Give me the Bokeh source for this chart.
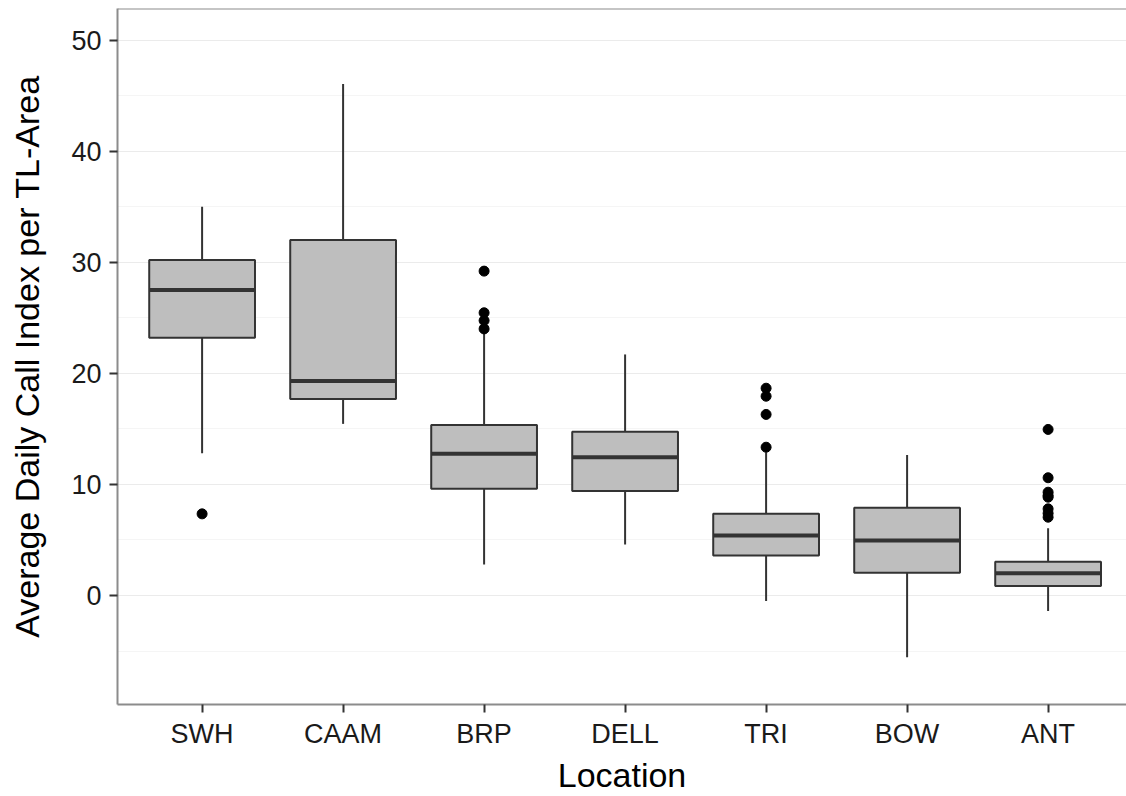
from bokeh.plotting import figure
from bokeh.models import Range1d, FixedTicker, Span, ColumnDataSource
from bokeh.embed import file_html
from bokeh.resources import INLINE

locations = ["SWH", "CAAM", "BRP", "DELL", "TRI", "BOW", "ANT"]
q1 = [23.2, 17.7, 9.6, 9.4, 3.6, 2.05, 0.85]
median = [27.5, 19.3, 12.75, 12.45, 5.4, 4.95, 2.0]
q3 = [30.2, 32.0, 15.35, 14.75, 7.35, 7.9, 3.05]
whisker_low = [12.8, 15.45, 2.8, 4.6, -0.5, -5.55, -1.4]
whisker_high = [35.0, 46.05, 23.7, 21.7, 12.9, 12.65, 6.05]

outlier_loc = ["SWH", "BRP", "BRP", "BRP", "BRP", "TRI", "TRI", "TRI", "TRI",
               "ANT", "ANT", "ANT", "ANT", "ANT", "ANT", "ANT", "ANT"]
outlier_val = [7.35, 29.2, 25.45, 24.75, 24.0, 18.66, 17.94, 16.3, 13.35,
               14.95, 10.6, 9.3, 9.0, 8.85, 7.8, 7.4, 7.05]

y_major = [0, 10, 20, 30, 40, 50]
y_minor = [-5, 5, 15, 25, 35, 45]

pos = {name: i + 1 for i, name in enumerate(locations)}
xs = [pos[n] for n in locations]
box_w = 0.75

W, H = 1126, 796
left, top, bottom = 117, 8, 92
frame_w = W - left
px_per_cat = 141.0

p = figure(width=W, height=H, output_backend="svg", toolbar_location=None,
           x_range=Range1d(0.4, 0.4 + frame_w / px_per_cat),
           y_range=Range1d(-9.81, 52.84),
           min_border_left=left, min_border_right=0,
           min_border_top=top, min_border_bottom=bottom)
p.outline_line_color = None
p.background_fill_color = "white"
p.border_fill_color = "white"

# grid
p.xgrid.visible = False
p.ygrid.ticker = FixedTicker(ticks=y_major, minor_ticks=y_minor)
p.ygrid.grid_line_color = "#ebebeb"
p.ygrid.grid_line_width = 1
p.ygrid.minor_grid_line_color = "#f5f5f5"
p.ygrid.minor_grid_line_width = 1

# top border
p.add_layout(Span(location=52.84, dimension="width", line_color="#8c8c8c", line_width=2))

font = "Liberation Sans"
for ax in (p.xaxis[0], p.yaxis[0]):
    ax.axis_line_color = "#8c8c8c"
    ax.axis_line_width = 2
    ax.major_tick_line_color = "#333333"
    ax.major_tick_line_width = 2
    ax.major_tick_out = 8
    ax.major_tick_in = 0
    ax.minor_tick_line_color = None
    ax.major_label_text_font = font
    ax.major_label_text_font_size = "27px"
    ax.major_label_text_color = "#1a1a1a"
    ax.axis_label_text_font = font
    ax.axis_label_text_font_size = "34px"
    ax.axis_label_text_font_style = "normal"
    ax.axis_label_text_color = "#000000"

p.xaxis.ticker = FixedTicker(ticks=xs)
p.xaxis.major_label_overrides = {pos[n]: n for n in locations}
p.xaxis.axis_label = "Location"
p.xaxis.major_label_standoff = 6
p.xaxis.axis_label_standoff = 4

p.yaxis.ticker = FixedTicker(ticks=y_major)
p.yaxis.axis_label = "Average Daily Call Index per TL-Area"
p.yaxis.major_label_standoff = 8
p.yaxis.axis_label_standoff = 22

src = ColumnDataSource(dict(
    x=xs, q1=q1, q3=q3, med=median, lo=whisker_low, hi=whisker_high,
    xl=[x - box_w / 2 for x in xs], xr=[x + box_w / 2 for x in xs],
))

line_col = "#333333"
p.segment(x0="x", y0="q3", x1="x", y1="hi", source=src, line_color=line_col, line_width=2)
p.segment(x0="x", y0="q1", x1="x", y1="lo", source=src, line_color=line_col, line_width=2)
p.vbar(x="x", width=box_w, top="q3", bottom="q1", source=src,
       fill_color="#bebebe", line_color=line_col, line_width=2)
p.segment(x0="xl", y0="med", x1="xr", y1="med", source=src, line_color=line_col, line_width=4)

p.scatter(x=[pos[n] for n in outlier_loc], y=outlier_val, size=10,
          fill_color="black", line_color="black")

open("out.html", "w").write(file_html(p, INLINE))
